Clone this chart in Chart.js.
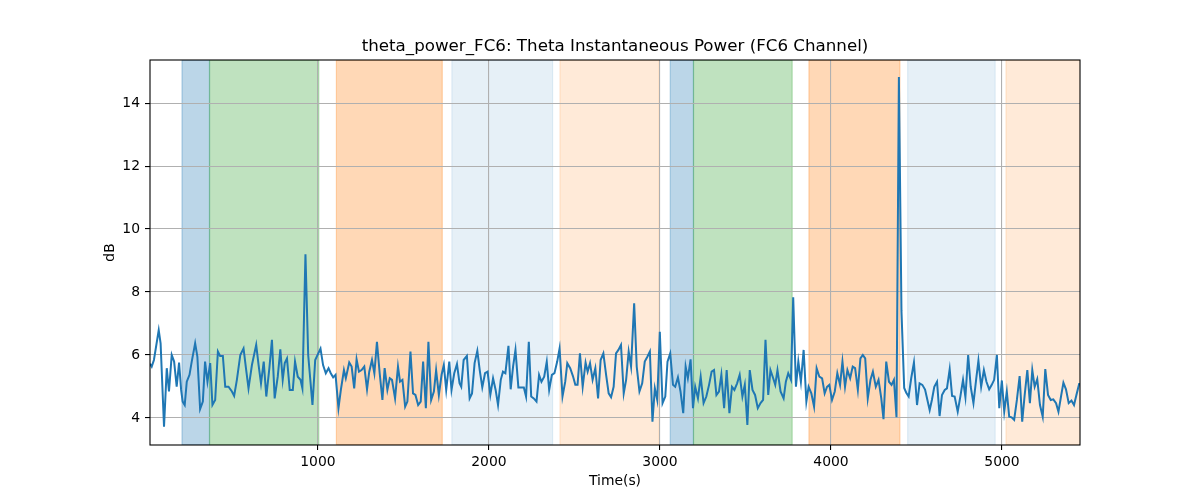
<!DOCTYPE html>
<html lang="en">
<head>
    <meta charset="UTF-8">
    <title>theta_power_FC6</title>
    <script src="https://cdn.jsdelivr.net/npm/chart.js"></script>
    <style>
        body { margin: 0; background: #ffffff; }
        #wrap { width: 1200px; height: 500px; }
    </style>
</head>
<body>
    <div id="wrap"><canvas id="thetaChart" width="1200" height="500"></canvas></div>

    <script>
        // time stamps (s) and power (dB)
        const times = [
            18, 28, 41, 69, 80, 100, 116, 129, 145, 159, 174, 188, 200, 209, 221, 233, 249, 262, 282, 295,
            311, 327, 340, 354, 370, 383, 399, 415, 428, 444, 458, 477, 497, 510, 526, 546, 565, 579, 594, 614,
            639, 653, 667, 683, 698, 716, 731, 747, 765, 780, 794, 806, 819, 835, 853, 866, 882, 898, 909, 927,
            943, 968, 984, 1015, 1030, 1046, 1062, 1075, 1089, 1103, 1120, 1134, 1152, 1163, 1183, 1197, 1212, 1226, 1240, 1255,
            1271, 1287, 1300, 1316, 1330, 1345, 1361, 1377, 1390, 1406, 1420, 1433, 1451, 1468, 1480, 1494, 1510, 1523, 1541, 1556,
            1570, 1586, 1601, 1615, 1631, 1646, 1662, 1678, 1691, 1707, 1723, 1736, 1750, 1768, 1781, 1797, 1813, 1828, 1838, 1852,
            1871, 1887, 1901, 1916, 1932, 1946, 1961, 1977, 1992, 2008, 2024, 2039, 2053, 2069, 2082, 2096, 2114, 2127, 2141, 2155,
            2172, 2188, 2204, 2217, 2233, 2247, 2262, 2278, 2293, 2307, 2323, 2338, 2352, 2368, 2383, 2399, 2413, 2430, 2446, 2458,
            2475, 2491, 2505, 2518, 2532, 2548, 2565, 2577, 2591, 2606, 2622, 2638, 2653, 2669, 2685, 2700, 2714, 2729, 2743, 2757,
            2772, 2788, 2802, 2817, 2831, 2849, 2864, 2880, 2896, 2911, 2927, 2941, 2956, 2970, 2984, 2999, 3015, 3031, 3044, 3060,
            3076, 3089, 3105, 3120, 3136, 3150, 3163, 3179, 3193, 3206, 3222, 3238, 3255, 3271, 3287, 3302, 3316, 3330, 3345, 3359,
            3375, 3390, 3406, 3421, 3435, 3451, 3466, 3482, 3496, 3511, 3525, 3541, 3556, 3572, 3588, 3603, 3617, 3633, 3646, 3662,
            3674, 3687, 3705, 3723, 3736, 3750, 3766, 3779, 3795, 3809, 3824, 3840, 3856, 3869, 3885, 3901, 3916, 3932, 3948, 3963,
            3977, 3990, 4006, 4022, 4037, 4053, 4067, 4082, 4096, 4112, 4127, 4141, 4157, 4172, 4186, 4200, 4215, 4231, 4245, 4262,
            4278, 4294, 4307, 4323, 4339, 4354, 4368, 4383, 4397, 4412, 4428, 4440, 4454, 4469, 4485, 4503, 4518, 4534, 4550, 4577,
            4590, 4604, 4620, 4635, 4649, 4665, 4678, 4694, 4708, 4723, 4741, 4757, 4772, 4786, 4802, 4817, 4833, 4849, 4862, 4878,
            4894, 4909, 4925, 4940, 4954, 4970, 4984, 4999, 5013, 5028, 5042, 5056, 5071, 5087, 5103, 5118, 5132, 5148, 5163, 5177,
            5191, 5206, 5222, 5238, 5253, 5269, 5285, 5300, 5316, 5330, 5345, 5359, 5374, 5390, 5406, 5421, 5435, 5451, 5467
        ];
        const powerDb = [
            5.72, 5.63, 5.84, 6.79, 6.37, 3.72, 5.58, 4.84, 6.0, 5.79, 4.99, 5.76, 4.89, 4.52, 4.41, 5.15, 5.37, 5.79, 6.37, 5.95,
            4.28, 4.52, 5.79, 5.15, 5.74, 4.41, 4.57, 6.11, 5.97, 5.97, 4.99, 4.99, 4.84, 4.70, 5.21, 6.0, 6.21, 5.58, 4.94, 5.68,
            6.32, 5.68, 5.10, 5.79, 4.68, 5.58, 6.48, 4.62, 5.31, 6.18, 5.21, 5.74, 5.89, 4.89, 4.89, 5.79, 5.31, 5.21, 4.94, 9.2,
            6.0, 4.41, 5.84, 6.2, 5.68, 5.42, 5.58, 5.42, 5.29, 5.37, 4.31, 4.89, 5.52, 5.26, 5.76, 5.63, 4.94, 5.86, 5.47, 5.52,
            5.63, 4.91, 5.47, 5.84, 5.42, 6.42, 5.42, 4.57, 5.58, 4.89, 5.26, 5.21, 4.62, 5.63, 5.15, 5.21, 4.36, 4.52, 6.11, 4.78,
            4.73, 4.41, 4.52, 5.79, 4.31, 6.42, 4.57, 4.84, 5.52, 4.73, 5.37, 5.68, 4.89, 5.79, 4.89, 5.42, 5.71, 5.10, 4.99, 5.84,
            5.97, 4.62, 4.78, 5.74, 6.13, 5.52, 4.97, 5.42, 5.47, 4.73, 5.26, 4.89, 4.41, 5.21, 5.47, 5.42, 6.29, 4.91, 5.63, 6.16,
            4.97, 4.97, 4.97, 4.68, 6.42, 4.68, 4.62, 4.52, 5.37, 5.15, 5.31, 5.79, 4.89, 5.37, 5.42, 5.79, 6.21, 4.68, 5.15, 5.74,
            5.58, 5.33, 5.05, 5.05, 6.05, 4.99, 5.76, 5.47, 5.74, 5.21, 5.58, 4.62, 5.84, 6.05, 5.37, 4.78, 4.66, 4.99, 6.05, 6.16,
            6.32, 4.78, 5.21, 6.11, 5.63, 7.64, 5.63, 4.84, 5.10, 5.79, 5.95, 6.11, 3.88, 4.94, 4.57, 6.74, 4.47, 4.68, 5.79, 6.05,
            5.05, 4.99, 5.29, 4.84, 4.15, 5.63, 5.26, 5.86, 4.31, 4.99, 4.62, 5.31, 4.47, 4.68, 5.05, 5.47, 5.52, 4.73, 4.84, 5.37,
            4.31, 5.52, 4.15, 4.99, 4.89, 5.10, 5.37, 4.68, 5.05, 3.78, 5.52, 4.89, 4.73, 4.31, 4.47, 4.57, 6.48, 4.73, 5.52, 5.26,
            5.05, 5.52, 4.84, 4.62, 5.15, 5.42, 5.21, 7.83, 4.99, 5.79, 5.15, 6.16, 4.52, 4.99, 4.78, 4.36, 5.58, 5.31, 5.26, 4.78,
            4.99, 5.05, 4.57, 4.84, 5.42, 5.05, 5.79, 4.99, 5.52, 5.26, 5.63, 5.58, 4.89, 5.89, 6.0, 5.89, 4.62, 5.21, 5.47, 4.99,
            5.21, 4.62, 3.96, 5.79, 5.15, 5.05, 5.21, 4.02, 14.83, 7.4, 4.95, 4.8, 4.68, 5.26, 5.76, 4.41, 5.10, 5.05, 4.9, 4.25,
            4.57, 4.99, 5.15, 4.06, 4.73, 4.89, 4.94, 5.55, 4.70, 4.68, 4.20, 4.70, 5.21, 4.66, 6.0, 4.99, 4.47, 5.23, 5.82, 4.99,
            5.52, 5.15, 4.91, 5.05, 5.21, 6.0, 4.31, 5.19, 4.20, 4.84, 4.04, 4.02, 3.94, 4.57, 5.33, 3.88, 4.70, 5.52, 4.47, 5.52,
            4.99, 5.23, 4.41, 4.04, 5.55, 4.73, 4.57, 4.59, 4.47, 4.20, 4.68, 5.12, 4.91, 4.47, 4.55, 4.41, 4.73, 5.08, 5.08
        ];

        // shaded task periods
        const spanStarts = [205, 366, 1108, 1783, 2415, 3060, 3196, 3871, 4448, 5023];
        const spanEnds = [366, 1005, 1727, 2372, 2995, 3196, 3773, 4403, 4960, 5500];
        const spanColors = [
            'rgba(31,119,180,0.3)', 'rgba(44,160,44,0.3)', 'rgba(255,127,14,0.3)',
            'rgba(31,119,180,0.11)', 'rgba(255,127,14,0.16)',
            'rgba(31,119,180,0.3)', 'rgba(44,160,44,0.3)', 'rgba(255,127,14,0.3)',
            'rgba(31,119,180,0.11)', 'rgba(255,127,14,0.16)'
        ];

        const xTicks = [1000, 2000, 3000, 4000, 5000];
        const yTicks = [4, 6, 8, 10, 12, 14];

        const font = 'DejaVu Sans';

        const decorPlugin = {
            id: 'decor',
            beforeDraw(chart) {
                const { ctx, chartArea: a, scales: { x } } = chart;
                ctx.save();
                ctx.beginPath();
                ctx.rect(a.left, a.top, a.right - a.left, a.bottom - a.top);
                ctx.clip();
                spanStarts.forEach((s, i) => {
                    const x0 = x.getPixelForValue(s);
                    const x1 = x.getPixelForValue(spanEnds[i]);
                    ctx.fillStyle = spanColors[i];
                    ctx.fillRect(x0, a.top, x1 - x0, a.bottom - a.top);
                    ctx.strokeStyle = spanColors[i];
                    ctx.lineWidth = 1.2;
                    ctx.strokeRect(x0, a.top, x1 - x0, a.bottom - a.top);
                });
                ctx.restore();
            },
            afterDraw(chart) {
                const { ctx, chartArea: a } = chart;
                ctx.save();
                ctx.strokeStyle = '#000';
                ctx.lineWidth = 1.1;
                ctx.strokeRect(a.left, a.top, a.right - a.left, a.bottom - a.top);

                ctx.fillStyle = '#000';
                ctx.textAlign = 'center';
                ctx.textBaseline = 'middle';
                ctx.font = '16.7px "' + font + '"';
                ctx.fillText('theta_power_FC6: Theta Instantaneous Power (FC6 Channel)', (a.left + a.right) / 2, 47);
                ctx.font = '13.9px "' + font + '"';
                ctx.fillText('Time(s)', (a.left + a.right) / 2, 481);
                ctx.translate(110, (a.top + a.bottom) / 2);
                ctx.rotate(-Math.PI / 2);
                ctx.fillText('dB', 0, 0);
                ctx.restore();
            }
        };

        const config = {
            type: 'line',
            data: {
                datasets: [{
                    data: times.map((t, i) => ({ x: t, y: powerDb[i] })),
                    borderColor: '#1f77b4',
                    borderWidth: 2,
                    pointRadius: 0,
                    tension: 0,
                    fill: false
                }]
            },
            options: {
                responsive: false,
                animation: false,
                devicePixelRatio: 1,
                layout: { padding: { left: 0, right: 120, top: 60, bottom: 0 } },
                plugins: {
                    legend: { display: false },
                    title: { display: false },
                    tooltip: { enabled: false }
                },
                scales: {
                    x: {
                        type: 'linear',
                        min: 18,
                        max: 5456,
                        afterFit: s => { s.height = 55; },
                        afterBuildTicks: s => { s.ticks = xTicks.map(v => ({ value: v })); },
                        grid: { color: '#b0b0b0', lineWidth: 1.1, tickLength: 5, tickColor: '#000', tickWidth: 1.1 },
                        border: { display: false },
                        ticks: { color: '#000', padding: 4, maxRotation: 0, callback: v => String(v), font: { family: font, size: 13.9 } }
                    },
                    y: {
                        min: 3.14,
                        max: 15.37,
                        afterFit: s => { s.width = 150; },
                        afterBuildTicks: s => { s.ticks = yTicks.map(v => ({ value: v })); },
                        grid: { color: '#b0b0b0', lineWidth: 1.1, tickLength: 5, tickColor: '#000', tickWidth: 1.1 },
                        border: { display: false },
                        ticks: { color: '#000', padding: 5, callback: v => String(v), font: { family: font, size: 13.9 } }
                    }
                }
            },
            plugins: [decorPlugin]
        };

        new Chart(document.getElementById('thetaChart'), config);
    </script>
</body>
</html>
